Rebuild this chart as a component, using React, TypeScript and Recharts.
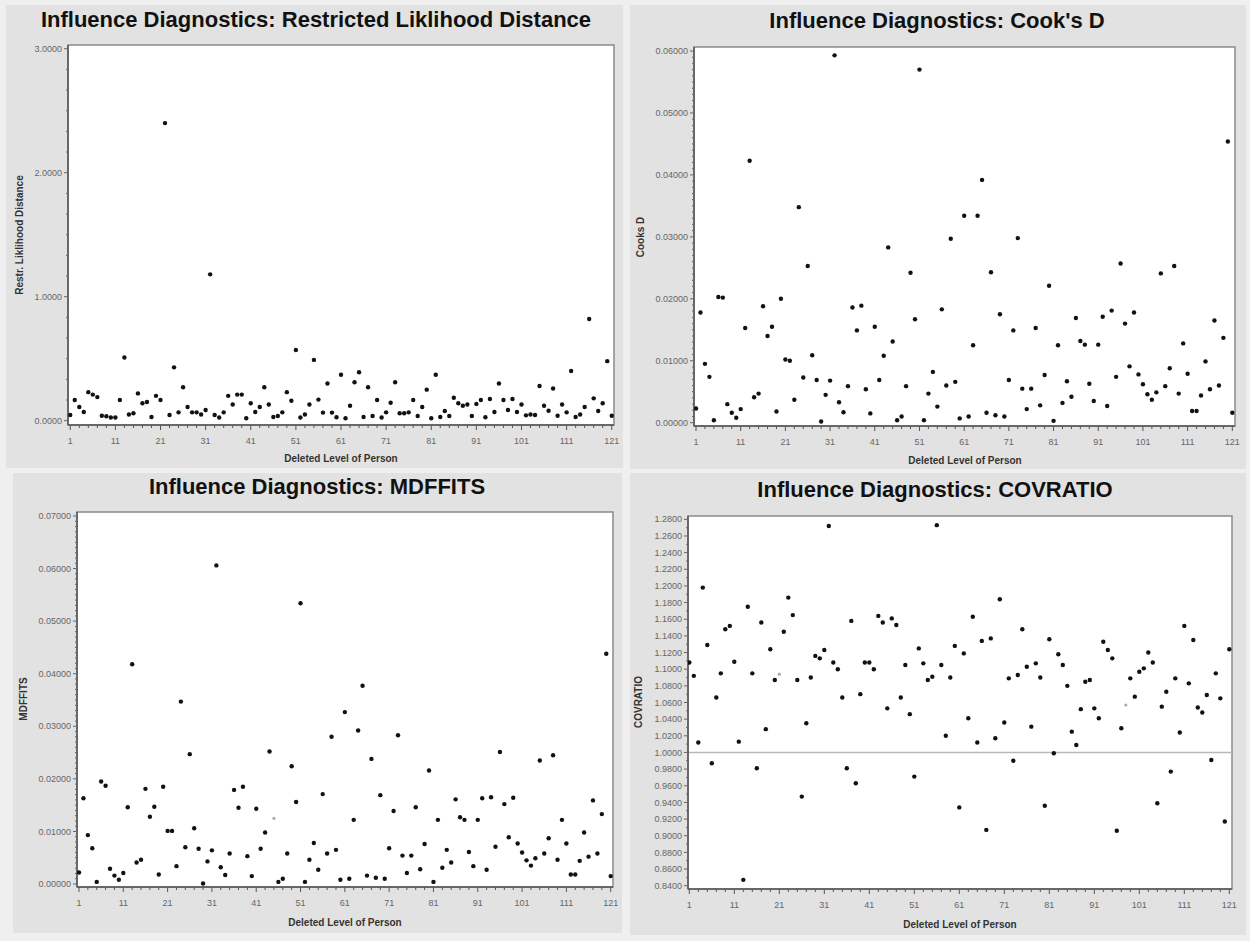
import React from "react";
import { ScatterChart, Scatter, XAxis, YAxis, CartesianGrid, ReferenceArea, ReferenceLine } from "recharts";

// deleted level of person (1..121)
const persons = Array.from({ length: 121 }, (_, i) => i + 1);

const restrLikDist = [
  0.046, 0.167, 0.11, 0.07, 0.23, 0.21, 0.19, 0.04, 0.035, 0.025,
  0.025, 0.167, 0.51, 0.05, 0.06, 0.22, 0.14, 0.15, 0.03, 0.2,
  0.167, 2.4, 0.046, 0.43, 0.067, 0.27, 0.11, 0.067, 0.067, 0.05,
  0.086, 1.18, 0.046, 0.025, 0.067, 0.2, 0.13, 0.21, 0.21, 0.02,
  0.14, 0.07, 0.11, 0.27, 0.13, 0.03, 0.037, 0.067, 0.23, 0.16,
  0.57, 0.025, 0.05, 0.13, 0.49, 0.17, 0.065, 0.3, 0.065, 0.027,
  0.37, 0.02, 0.12, 0.31, 0.39, 0.03, 0.27, 0.037, 0.167, 0.025,
  0.067, 0.145, 0.31, 0.06, 0.06, 0.067, 0.167, 0.037, 0.11, 0.25,
  0.02, 0.37, 0.03, 0.078, 0.037, 0.185, 0.14, 0.12, 0.13, 0.037,
  0.135, 0.167, 0.027, 0.175, 0.07, 0.3, 0.167, 0.086, 0.175, 0.07,
  0.13, 0.043, 0.05, 0.046, 0.28, 0.12, 0.08, 0.26, 0.04, 0.13,
  0.067, 0.4, 0.03, 0.05, 0.11, 0.82, 0.18, 0.078, 0.14, 0.48,
  0.04,
];

const cooksD = [
  0.0023, 0.0178, 0.0095, 0.0074, 0.0004, 0.0203, 0.0202, 0.003, 0.0016, 0.0008,
  0.0022, 0.0153, 0.0423, 0.0041, 0.0047, 0.0188, 0.014, 0.0155, 0.0018, 0.02,
  0.0102, 0.01, 0.0037, 0.0348, 0.0073, 0.0253, 0.0109, 0.0069, 0.0002, 0.0045,
  0.0068, 0.0593, 0.0033, 0.0017, 0.0059, 0.0186, 0.0149, 0.0189, 0.0054, 0.0015,
  0.0155, 0.0069, 0.0108, 0.0283, 0.0131, 0.0004, 0.001, 0.0059, 0.0242, 0.0167,
  0.057, 0.0004, 0.0047, 0.0082, 0.0026, 0.0183, 0.006, 0.0297, 0.0066, 0.0007,
  0.0334, 0.001, 0.0125, 0.0334, 0.0392, 0.0016, 0.0243, 0.0012, 0.0175, 0.001,
  0.0069, 0.0149, 0.0298, 0.0055, 0.0022, 0.0055, 0.0153, 0.0028, 0.0077, 0.0221,
  0.0003, 0.0125, 0.0032, 0.0067, 0.0042, 0.0169, 0.0132, 0.0126, 0.0063, 0.0035,
  0.0126, 0.0171, 0.0027, 0.0181, 0.0074, 0.0257, 0.016, 0.0091, 0.0178, 0.0078,
  0.0062, 0.0046, 0.0037, 0.0049, 0.0241, 0.0059, 0.0088, 0.0253, 0.0047, 0.0128,
  0.0079, 0.0019, 0.0019, 0.0044, 0.0099, 0.0054, 0.0165, 0.006, 0.0137, 0.0454,
  0.0016,
];

const mdffits = [
  0.0022, 0.0163, 0.0093, 0.0068, 0.0004, 0.0195, 0.0187, 0.0029, 0.0016, 0.0008,
  0.0021, 0.0146, 0.0418, 0.0041, 0.0046, 0.0181, 0.0128, 0.0147, 0.0018, 0.0185,
  0.0101, 0.0101, 0.0034, 0.0347, 0.007, 0.0247, 0.0106, 0.0067, 0.0001, 0.0043,
  0.0064, 0.0606, 0.0032, 0.0017, 0.0058, 0.0179, 0.0145, 0.0185, 0.0053, 0.0015,
  0.0143, 0.0067, 0.0098, 0.0252, 0.0125, 0.0004, 0.001, 0.0058, 0.0224, 0.0156,
  0.0534, 0.0004, 0.0046, 0.0078, 0.0027, 0.0171, 0.0058, 0.028, 0.0065, 0.0008,
  0.0327, 0.001, 0.0122, 0.0292, 0.0377, 0.0016, 0.0238, 0.0012, 0.0169, 0.001,
  0.0068, 0.0139, 0.0283, 0.0054, 0.0021, 0.0054, 0.0146, 0.0028, 0.0076, 0.0216,
  0.0004, 0.0122, 0.0031, 0.0065, 0.0041, 0.0161, 0.0127, 0.0122, 0.0061, 0.0034,
  0.0122, 0.0163, 0.0027, 0.0165, 0.0071, 0.0251, 0.0152, 0.0089, 0.0164, 0.0077,
  0.006, 0.0045, 0.0035, 0.0049, 0.0235, 0.0058, 0.0087, 0.0245, 0.0046, 0.0122,
  0.0077, 0.0018, 0.0018, 0.0044, 0.0098, 0.0052, 0.0159, 0.0058, 0.0133, 0.0438,
  0.0015,
];

const covratio = [
  1.108, 1.092, 1.012, 1.198, 1.129, 0.987, 1.066, 1.095, 1.148, 1.152,
  1.109, 1.013, 0.847, 1.175, 1.095, 0.981, 1.156, 1.028, 1.124, 1.087,
  1.094, 1.145, 1.186, 1.165, 1.087, 0.947, 1.035, 1.09, 1.116, 1.113,
  1.123, 1.272, 1.108, 1.1, 1.066, 0.981, 1.158, 0.963, 1.07, 1.108,
  1.108, 1.1, 1.164, 1.156, 1.053, 1.161, 1.153, 1.066, 1.105, 1.046,
  0.971, 1.125, 1.107, 1.087, 1.091, 1.273, 1.105, 1.02, 1.09, 1.128,
  0.934, 1.119, 1.041, 1.163, 1.012, 1.134, 0.907, 1.137, 1.017, 1.184,
  1.036, 1.089, 0.99, 1.093, 1.148, 1.103, 1.031, 1.107, 1.09, 0.936,
  1.136, 0.999, 1.118, 1.105, 1.08, 1.025, 1.009, 1.052, 1.085, 1.087,
  1.053, 1.041, 1.133, 1.123, 1.113, 0.906, 1.029, 1.057, 1.089, 1.067,
  1.097, 1.101, 1.12, 1.108, 0.939, 1.055, 1.073, 0.977, 1.089, 1.024,
  1.152, 1.083, 1.135, 1.054, 1.048, 1.069, 0.991, 1.095, 1.065, 0.917,
  1.124,
];

// points drawn in light grey in the original
const faintMdffits = [45];
const faintCovratio = [21, 98];

const xMajorTicks = [1, 11, 21, 31, 41, 51, 61, 71, 81, 91, 101, 111, 121];
const rldTicks = [0, 1, 2, 3];
const cooksTicks = [0, 0.01, 0.02, 0.03, 0.04, 0.05, 0.06];
const mdffitsTicks = [0, 0.01, 0.02, 0.03, 0.04, 0.05, 0.06, 0.07];
const covTicks = [
  0.84, 0.86, 0.88, 0.9, 0.92, 0.94, 0.96, 0.98, 1.0, 1.02, 1.04, 1.06,
  1.08, 1.1, 1.12, 1.14, 1.16, 1.18, 1.2, 1.22, 1.24, 1.26, 1.28,
];

const FONT = '"Liberation Sans", Arial, sans-serif';
const xMinorTicks = persons.filter((p) => p % 2 === 1);

const XTick = (props: any) => {
  const { x, y, payload } = props;
  const major = xMajorTicks.includes(payload.value);
  return (
    <g>
      <line x1={x} x2={x} y1={y} y2={y + (major ? 5 : 3)} stroke="#555" strokeWidth={1} />
      {major && (
        <text x={x} y={y + 19} textAnchor="middle" fontSize={9} fill="#666" fontFamily={FONT}>
          {payload.value}
        </text>
      )}
    </g>
  );
};

const makeYTick = (majors: number[], decimals: number) => (props: any) => {
  const { x, y, payload } = props;
  const major = majors.some((m) => Math.abs(m - payload.value) < 1e-9);
  return (
    <g>
      <line x1={x - (major ? 4 : 2)} x2={x} y1={y} y2={y} stroke="#666" strokeWidth={1} />
      {major && (
        <text x={x - 6} y={y} dy="0.35em" textAnchor="end" fontSize={9} fill="#666" fontFamily={FONT}>
          {payload.value.toFixed(decimals)}
        </text>
      )}
    </g>
  );
};

const Dot = (p: any) => <circle cx={p.cx} cy={p.cy} r={2.2} fill="#111" />;
const FaintDot = (p: any) => <circle cx={p.cx} cy={p.cy} r={1.6} fill="#aaa" />;

type PanelProps = {
  left: number;
  top: number;
  width: number;
  height: number;
  title: string;
  titleX: number;
  titleBase: number;
  yLabel: string;
  yLabelPos: [number, number];
  xLabelPos: [number, number];
  values: number[];
  faint?: number[];
  majors: number[];
  minorStep: number;
  decimals: number;
  xDomain: [number, number];
  yDomain: [number, number];
  margin: { top: number; right: number };
  yWidth: number;
  xHeight: number;
  refY?: number;
};

function Panel(p: PanelProps) {
  const faint = p.faint || [];
  const rows = persons.map((person, i) => ({ person, value: p.values[i] }));
  const solid = rows.filter((r) => !faint.includes(r.person));
  const light = rows.filter((r) => faint.includes(r.person));
  const lo = p.majors[0];
  const hi = p.majors[p.majors.length - 1];
  const n = Math.round((hi - lo) / p.minorStep);
  const yTicks = Array.from({ length: n + 1 }, (_, k) => lo + k * p.minorStep);

  return (
    <>
      <div
        style={{
          position: "absolute",
          left: p.left,
          top: p.top,
          width: p.width,
          height: p.height,
          background: "#e2e2e2",
        }}
      >
        <ScatterChart width={p.width} height={p.height} margin={{ top: p.margin.top, right: p.margin.right, bottom: 0, left: 0 }}>
          <CartesianGrid horizontal={false} vertical={false} fill="#ffffff" />
          <XAxis
            type="number"
            dataKey="person"
            domain={p.xDomain}
            allowDataOverflow
            ticks={xMinorTicks}
            interval={0}
            tickLine={false}
            tickSize={0}
            tickMargin={0}
            tick={XTick}
            height={p.xHeight}
            axisLine={{ stroke: "#555", strokeWidth: 1.5 }}
          />
          <YAxis
            type="number"
            dataKey="value"
            domain={p.yDomain}
            allowDataOverflow
            ticks={yTicks}
            interval={0}
            tickLine={false}
            tickSize={0}
            tickMargin={0}
            tick={makeYTick(p.majors, p.decimals)}
            width={p.yWidth}
            axisLine={{ stroke: "#555", strokeWidth: 1.5 }}
          />
          <ReferenceArea
            x1={p.xDomain[0]}
            x2={p.xDomain[1]}
            y1={p.yDomain[0]}
            y2={p.yDomain[1]}
            fill="#ffffff"
            fillOpacity={0}
            stroke="#8a8a8a"
            strokeWidth={1.5}
          />
          {p.refY !== undefined && <ReferenceLine y={p.refY} stroke="#b8b8b8" strokeWidth={1.5} />}
          <Scatter data={solid} shape={Dot} isAnimationActive={false} />
          {light.length > 0 && <Scatter data={light} shape={FaintDot} isAnimationActive={false} />}
        </ScatterChart>
      </div>
      <div
        style={{
          position: "absolute",
          left: p.titleX - 400,
          width: 800,
          top: p.titleBase - 18.6,
          textAlign: "center",
          fontFamily: FONT,
          fontWeight: "bold",
          fontSize: 22,
          lineHeight: "22px",
          color: "#111",
          whiteSpace: "nowrap",
        }}
      >
        {p.title}
      </div>
      <div
        style={{
          position: "absolute",
          left: p.yLabelPos[0],
          top: p.yLabelPos[1],
          transform: "translate(-50%, -50%) rotate(-90deg)",
          fontFamily: FONT,
          fontWeight: "bold",
          fontSize: 10,
          lineHeight: "12px",
          color: "#333",
          whiteSpace: "nowrap",
        }}
      >
        {p.yLabel}
      </div>
      <div
        style={{
          position: "absolute",
          left: p.xLabelPos[0],
          top: p.xLabelPos[1],
          transform: "translate(-50%, -50%)",
          fontFamily: FONT,
          fontWeight: "bold",
          fontSize: 10,
          lineHeight: "12px",
          color: "#333",
          whiteSpace: "nowrap",
        }}
      >
        Deleted Level of Person
      </div>
    </>
  );
}

export default function App() {
  return (
    <div
      style={{
        position: "fixed",
        left: 0,
        top: 0,
        width: 1250,
        height: 941,
        background: "#efefef",
        overflow: "hidden",
      }}
    >
      <Panel
        left={6}
        top={5}
        width={617}
        height={463}
        title="Influence Diagnostics: Restricted Liklihood Distance"
        titleX={316}
        titleBase={28}
        yLabel="Restr. Liklihood Distance"
        yLabelPos={[20, 235]}
        xLabelPos={[341, 459]}
        values={restrLikDist}
        majors={rldTicks}
        minorStep={1 / 6}
        decimals={4}
        xDomain={[0.5, 121.5]}
        yDomain={[-0.035, 3.03]}
        margin={{ top: 40, right: 9 }}
        yWidth={62}
        xHeight={43}
      />
      <Panel
        left={630}
        top={5}
        width={616}
        height={464}
        title="Influence Diagnostics: Cook's D"
        titleX={937}
        titleBase={29}
        yLabel="Cooks D"
        yLabelPos={[641, 237]}
        xLabelPos={[965, 461]}
        values={cooksD}
        majors={cooksTicks}
        minorStep={0.001}
        decimals={5}
        xDomain={[0.55, 121.6]}
        yDomain={[-0.00053, 0.06065]}
        margin={{ top: 42, right: 11 }}
        yWidth={64}
        xHeight={43}
      />
      <Panel
        left={13}
        top={473}
        width={609}
        height={460}
        title="Influence Diagnostics: MDFFITS"
        titleX={317}
        titleBase={495}
        yLabel="MDFFITS"
        yLabelPos={[23.5, 699]}
        xLabelPos={[345, 923]}
        values={mdffits}
        faint={faintMdffits}
        majors={mdffitsTicks}
        minorStep={0.001}
        decimals={5}
        xDomain={[0.55, 121.52]}
        yDomain={[-0.00057, 0.07076]}
        margin={{ top: 39, right: 9 }}
        yWidth={64}
        xHeight={46}
      />
      <Panel
        left={630}
        top={473}
        width={616}
        height={462}
        title="Influence Diagnostics: COVRATIO"
        titleX={935}
        titleBase={498}
        yLabel="COVRATIO"
        yLabelPos={[639, 702]}
        xLabelPos={[960, 925]}
        values={covratio}
        faint={faintCovratio}
        majors={covTicks}
        minorStep={0.01}
        decimals={4}
        xDomain={[0.71, 121.6]}
        yDomain={[0.836, 1.284]}
        margin={{ top: 43, right: 14 }}
        yWidth={58}
        xHeight={46}
        refY={1}
      />
    </div>
  );
}
